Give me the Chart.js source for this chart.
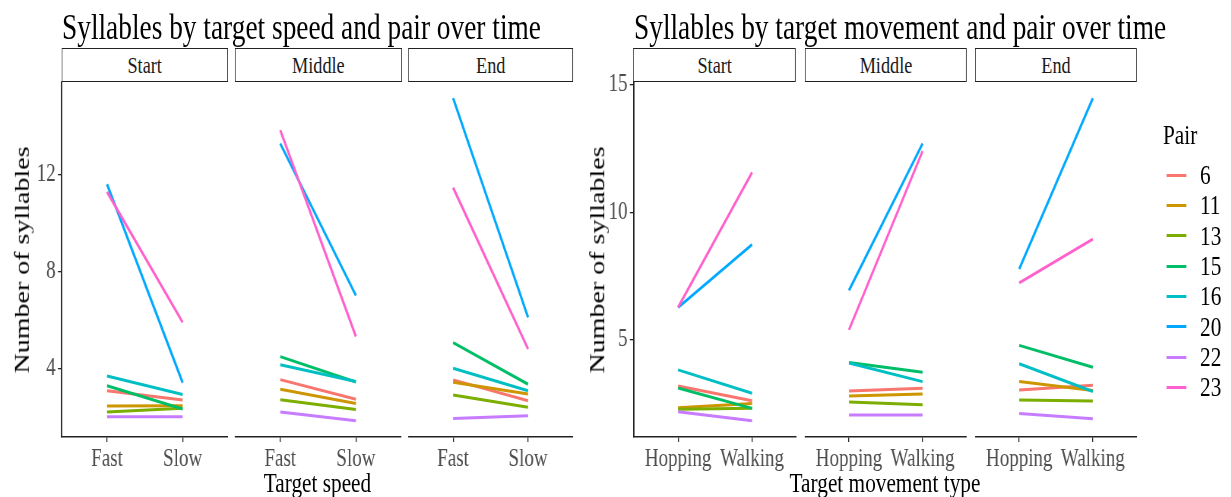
<!DOCTYPE html>
<html>
<head>
<meta charset="utf-8">
<script src="https://cdn.jsdelivr.net/npm/chart.js@4"></script>
<style>
  html, body { margin: 0; padding: 0; background: #fff; overflow: hidden; }
  #fig { position: absolute; left: 0; top: 0; height: 497px; transform-origin: 0 0; }
  #fig canvas, #fig .txt, #fig .box, #fig .key { position: absolute; }
  .txt { white-space: nowrap; line-height: 1; font-family: "Liberation Serif", "Times New Roman", serif; }
  .box { box-sizing: border-box; border: 1.6px solid #222; background: #fff; }
</style>
</head>
<body>
<div id="fig"></div>
<script>
// data
const pairs = ["6", "11", "13", "15", "16", "20", "22", "23"];
const pairColors = ["#F8766D", "#CD9600", "#7CAE00", "#00BE67", "#00BFC4", "#00A9FF", "#C77CFF", "#FF61CC"];
const times = ["Start", "Middle", "End"];
const speedLevels = ["Fast", "Slow"];
const moveLevels = ["Hopping", "Walking"];
const speedTicks = [4, 8, 12];
const moveTicks = [5, 10, 15];

const speedStartFast = [3.07, 2.44, 2.20, 3.28, 3.68, 11.59, 2.00, 11.27];
const speedStartSlow = [2.69, 2.45, 2.35, 2.32, 2.92, 3.40, 2.00, 5.89];
const speedMiddleFast = [3.53, 3.13, 2.70, 4.48, 4.14, 13.27, 2.20, 13.82];
const speedMiddleSlow = [2.72, 2.55, 2.30, 3.43, 3.45, 7.00, 1.83, 5.31];
const speedEndFast = [3.52, 3.42, 2.90, 5.06, 4.00, 15.14, 1.93, 11.45];
const speedEndSlow = [2.66, 2.94, 2.39, 3.34, 3.07, 6.10, 2.04, 4.79];

const moveStartHopping = [3.19, 2.33, 2.28, 3.11, 3.82, 6.27, 2.18, 6.27];
const moveStartWalking = [2.61, 2.50, 2.31, 2.31, 2.90, 8.74, 1.82, 11.57];
const moveMiddleHopping = [2.99, 2.80, 2.56, 4.11, 4.09, 6.94, 2.05, 5.39];
const moveMiddleWalking = [3.10, 2.87, 2.45, 3.73, 3.36, 12.70, 2.05, 12.40];
const moveEndHopping = [3.03, 3.36, 2.64, 4.78, 4.06, 7.78, 2.11, 7.23];
const moveEndWalking = [3.22, 3.01, 2.60, 3.92, 2.97, 14.48, 1.90, 8.95];

const S = 0.76; // text in the picture is squeezed sideways
const FONT = "'Liberation Serif', 'Times New Roman', serif";
const fig = document.getElementById("fig");
fig.style.width = 1231 / S + "px";
fig.style.transform = "scaleX(" + S + ")";

const panelTop = 82;
const panelBottom = 437;
const topRoom = 20; // space above the panel so the top tick label is not cut

function addText(text, cx, cy, size, color, align, rotate) {
  const d = document.createElement("div");
  d.className = "txt";
  d.textContent = text;
  d.style.fontSize = size + "px";
  d.style.color = color || "#000";
  d.style.left = cx / S + "px";
  d.style.top = cy + "px";
  let tx = align === "left" ? "0" : "-50%";
  d.style.transform = "translate(" + tx + ", -50%)" + (rotate ? " rotate(-90deg)" : "");
  fig.appendChild(d);
}

function addBox(x0, y0, x1, y1) {
  const b = document.createElement("div");
  b.className = "box";
  b.style.left = x0 / S + "px";
  b.style.top = y0 + "px";
  b.style.width = (x1 - x0) / S + "px";
  b.style.height = y1 - y0 + "px";
  fig.appendChild(b);
}

function range(lists) {
  const all = lists.flat();
  const lo = Math.min(...all), hi = Math.max(...all);
  const pad = (hi - lo) * 0.05;
  return [lo - pad, hi + pad];
}

function noPad(s) {
  s.paddingTop = 0;
  s.paddingBottom = 0;
  s.paddingLeft = 0;
  s.paddingRight = 0;
}

function makePanel(x0, x1, canvasLeft, levels, a, b, yRange, yTicks, showY) {
  const c = document.createElement("canvas");
  const w = Math.round((x1 - canvasLeft) / S);
  const h = panelBottom - panelTop + 45 + topRoom;
  c.width = w;
  c.height = h;
  c.style.width = w + "px";
  c.style.height = h + "px";
  c.style.left = canvasLeft / S + "px";
  c.style.top = panelTop - topRoom + "px";
  fig.appendChild(c);

  const datasets = pairs.map((p, j) => ({
    label: p,
    data: [{ x: 0, y: a[j] }, { x: 1, y: b[j] }],
    borderColor: pairColors[j],
    borderWidth: 3,
    pointRadius: 0,
    fill: false,
    tension: 0,
    order: 8 - j,
  }));

  new Chart(c, {
    type: "line",
    data: { datasets },
    options: {
      responsive: false,
      animation: false,
      devicePixelRatio: 1,
      layout: { padding: { top: topRoom, left: 0, right: 0, bottom: 0 } },
      plugins: { legend: { display: false }, tooltip: { enabled: false } },
      scales: {
        x: {
          type: "linear",
          min: -0.6,
          max: 1.6,
          afterBuildTicks: (s) => { s.ticks = [{ value: 0 }, { value: 1 }]; },
          afterFit: (s) => { s.height = 45; noPad(s); },
          ticks: {
            callback: (v) => levels[v],
            font: { family: FONT, size: 25 },
            color: "#4D4D4D",
            padding: 2,
            maxRotation: 0,
            autoSkip: false,
          },
          grid: { drawOnChartArea: false, tickLength: 5, color: "#222", lineWidth: 1.3 },
          border: { display: true, color: "#222", width: 1.4 },
        },
        y: {
          type: "linear",
          display: showY,
          min: yRange[0],
          max: yRange[1],
          afterBuildTicks: (s) => { s.ticks = yTicks.map((v) => ({ value: v })); },
          afterFit: (s) => { if (showY) s.width = (x0 - canvasLeft) / S; noPad(s); },
          ticks: {
            callback: (v) => String(v),
            font: { family: FONT, size: 25 },
            color: "#4D4D4D",
            padding: 3,
          },
          grid: { drawOnChartArea: false, tickLength: 5, color: "#222", lineWidth: 1.3 },
          border: { display: true, color: "#222", width: 1.8 },
        },
      },
    },
  });
}

// left figure: target speed
const speedFast = [speedStartFast, speedMiddleFast, speedEndFast];
const speedSlow = [speedStartSlow, speedMiddleSlow, speedEndSlow];
const speedRange = range([...speedFast, ...speedSlow]);
const leftPanels = [[61.7, 227.7], [235, 401.7], [408.3, 573.3]];
leftPanels.forEach(([x0, x1], i) => {
  makePanel(x0, x1, i === 0 ? 0 : x0, speedLevels, speedFast[i], speedSlow[i], speedRange, speedTicks, i === 0);
  addBox(x0, 48, x1, panelTop);
  addText(times[i], (x0 + x1) / 2, 65, 24, "#1A1A1A");
});
addText("Syllables by target speed and pair over time", 62, 27, 36, "#000", "left");
addText("Number of syllables", 22, 260, 28, "#000", "center", true);
addText("Target speed", 317.5, 483, 28);

// right figure: target movement
const moveHop = [moveStartHopping, moveMiddleHopping, moveEndHopping];
const moveWalk = [moveStartWalking, moveMiddleWalking, moveEndWalking];
const moveRange = range([...moveHop, ...moveWalk]);
const rightPanels = [[633.3, 796], [805, 967], [975, 1137]];
rightPanels.forEach(([x0, x1], i) => {
  makePanel(x0, x1, i === 0 ? 578 : x0, moveLevels, moveHop[i], moveWalk[i], moveRange, moveTicks, i === 0);
  addBox(x0, 48, x1, panelTop);
  addText(times[i], (x0 + x1) / 2, 65, 24, "#1A1A1A");
});
addText("Syllables by target movement and pair over time", 634, 27, 36, "#000", "left");
addText("Number of syllables", 597, 260, 28, "#000", "center", true);
addText("Target movement type", 885, 483, 28);

// legend
addText("Pair", 1163, 135, 28, "#000", "left");
pairs.forEach((p, j) => {
  const y = 175 + j * 30.35;
  const k = document.createElement("div");
  k.className = "key";
  k.style.left = 1166.7 / S + "px";
  k.style.top = y - 1.5 + "px";
  k.style.width = 19.5 / S + "px";
  k.style.height = "3px";
  k.style.background = pairColors[j];
  fig.appendChild(k);
  addText(p, 1200, y, 28, "#000", "left");
});
</script>
</body>
</html>
